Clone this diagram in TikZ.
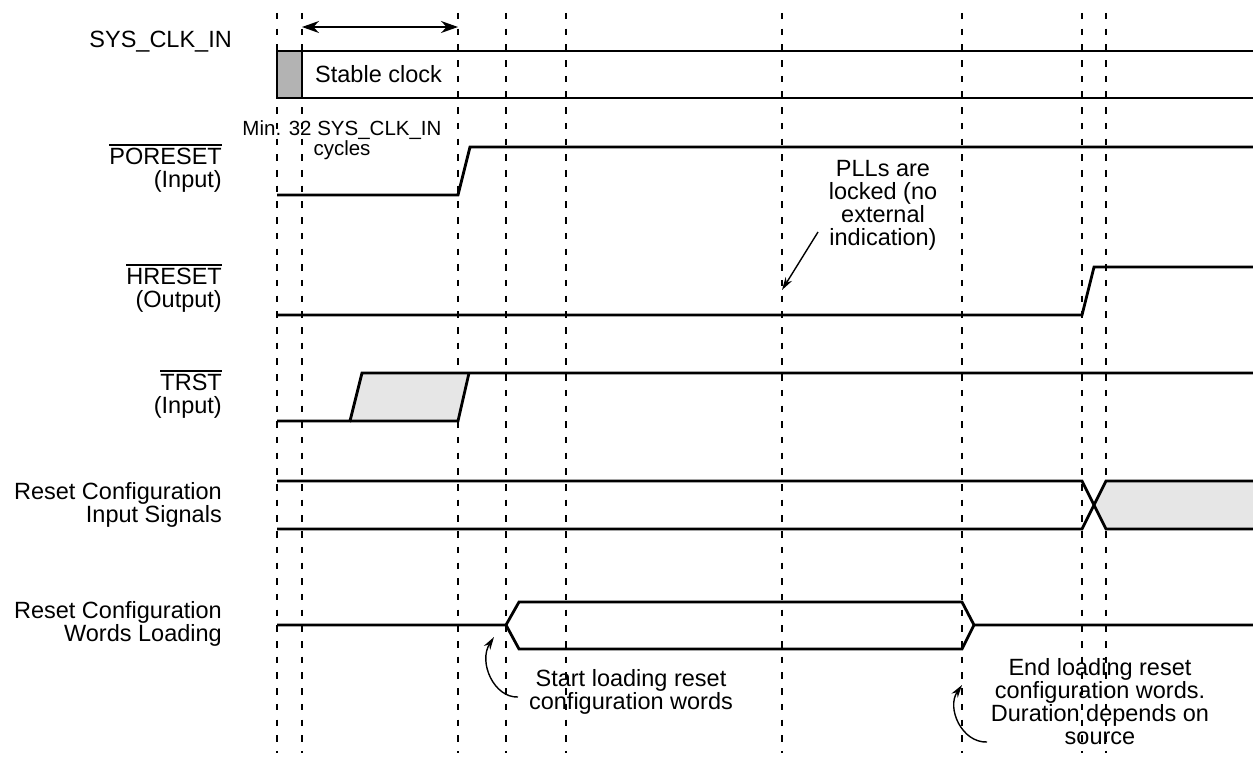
\documentclass[tikz,border=0pt]{standalone}
\usepackage{fontspec}
\setmainfont{Liberation Sans}
\usetikzlibrary{arrows.meta}
\newcommand{\ovl}[1]{\leavevmode\vbox{\hrule height 1.7pt\kern 2.2pt\hbox{#1}}}
\definecolor{darkfill}{HTML}{B3B3B3}
\definecolor{lightfill}{HTML}{E6E6E6}
\begin{document}
\begin{tikzpicture}[x=1pt,y=-1pt,
  sig/.style={line width=2.8pt,line join=miter},
  guide/.style={line width=2pt,dash pattern=on 6.5pt off 9.2pt},
  lbl/.style={inner sep=0pt,align=right,anchor=east,font=\fontsize{23.5}{23}\selectfont},
  note/.style={inner sep=0pt,align=center,font=\fontsize{23.5}{23}\selectfont},
  small/.style={inner sep=0pt,align=center,font=\fontsize{20.5}{20}\selectfont},
  ptr/.style={line width=1.4pt,-{Stealth[length=13pt,width=7.5pt]}},
  dim/.style={line width=1.6pt,{Stealth[length=17pt,width=12pt]}-{Stealth[length=17pt,width=12pt]}}]
\useasboundingbox (0,0) rectangle (1253,757);
% guide lines
\foreach \gx in {277,302,458,506,566,782,962,1082,1106}
  \draw[guide] (\gx,13) -- (\gx,753);
% labels
\node[lbl,anchor=east] (lclk) at (232,42) {SYS\_CLK\_IN};
\node[lbl] (lpor) at (222,168) {\ovl{PORESET}\\(Input)};
\node[lbl] (lhr) at (222,288) {\ovl{HRESET}\\(Output)};
\node[lbl] (ltr) at (222,394) {\ovl{TRST}\\(Input)};
\node[lbl] (lrci) at (222,505) {Reset Configuration\\Input Signals};
\node[lbl] (lrcw) at (222,624) {Reset Configuration\\Words Loading};
% SYS_CLK_IN
\fill[darkfill] (277,51) rectangle (302,98);
\draw[sig] (1253,51) -- (277,51) -- (277,98) -- (1253,98);
\draw[sig] (302,51) -- (302,98);
\node[note,anchor=west] (stable) at (315,74.5) {Stable clock};
\coordinate (dA) at (302,27);
\coordinate (dB) at (458,27);
\draw[dim] (dA) -- (dB);
\node[small] (min) at (342,140) {Min. 32 SYS\_CLK\_IN\\cycles};
% PORESET
\draw[sig] (277,195) -- (458,195) -- (470,147) -- (1253,147);
% HRESET
\draw[sig] (277,315) -- (1082,315) -- (1094,267) -- (1253,267);
\node[note] (pll) at (883,205) {PLLs are\\locked (no\\external\\indication)};
\coordinate (pllTail) at (818,232);
\coordinate (pllTip) at (782,290);
\draw[ptr] (pllTail) -- (pllTip);
% TRST
\fill[lightfill] (350,421) -- (362,373) -- (469,373) -- (458,421) -- cycle;
\draw[sig] (277,421) -- (350,421) -- (362,373) -- (1253,373);
\draw[sig] (350,421) -- (458,421) -- (469,373);
% Reset configuration input signals
\fill[lightfill] (1094,505) -- (1106,481) -- (1253,481) -- (1253,529) -- (1106,529) -- cycle;
\draw[sig] (277,481) -- (1082,481) -- (1106,529) -- (1253,529);
\draw[sig] (277,529) -- (1082,529) -- (1106,481) -- (1253,481);
% Reset configuration words loading
\draw[sig] (277,625) -- (506,625) -- (519,602) -- (962,602) -- (974,625) -- (1253,625);
\draw[sig] (506,625) -- (519,649) -- (962,649) -- (974,625);
\node[note] (start) at (631,692) {Start loading reset\\configuration words};
\node[note] (endl) at (1100,702) {End loading reset\\configuration words.\\Duration depends on\\source};
\coordinate (sTail) at (518,697);
\coordinate (sTip) at (494,637);
\draw[ptr] (sTail) .. controls (494,698) and (478,662) .. (sTip);
\coordinate (eTail) at (987,742);
\coordinate (eTip) at (962,685);
\draw[ptr] (eTail) .. controls (962,743) and (946,708) .. (eTip);
\end{tikzpicture}
\end{document}
